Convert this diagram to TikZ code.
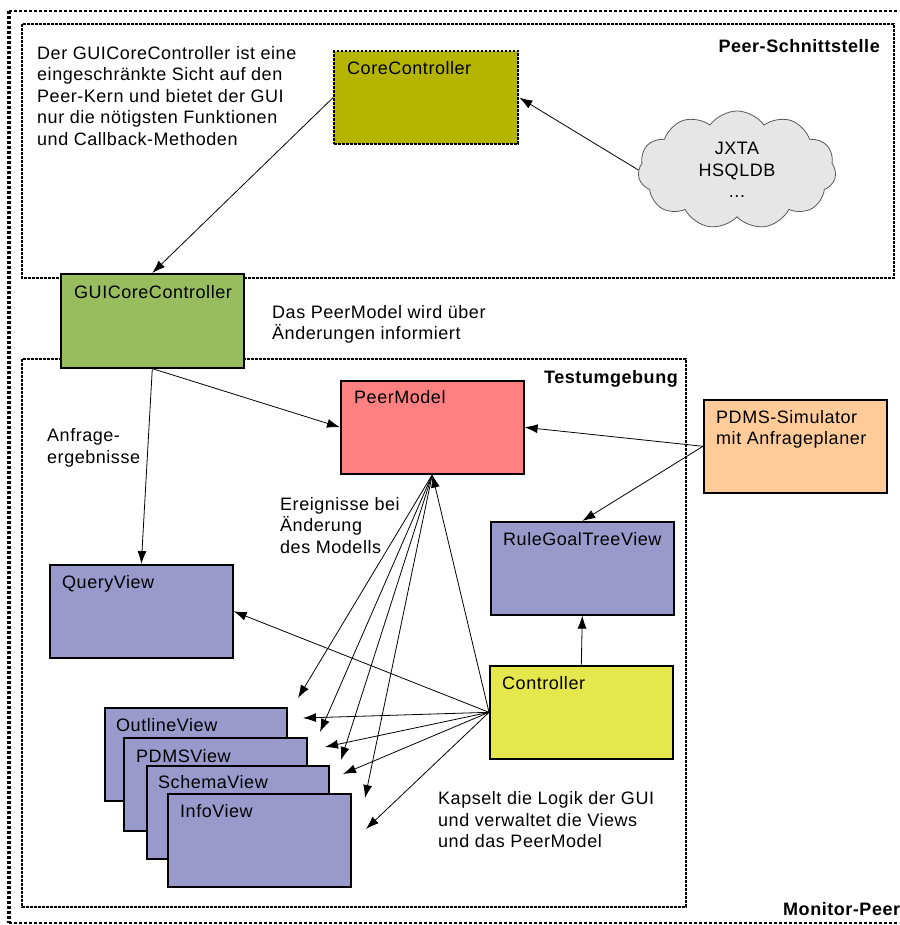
\documentclass[tikz,border=0pt]{standalone}
\usepackage{fontspec}
\setmainfont{Liberation Sans}[LetterSpace=3]
\usetikzlibrary{arrows.meta,shapes.symbols}

\definecolor{coreolive}{HTML}{B5B500}
\definecolor{guigreen}{HTML}{97BD5F}
\definecolor{modelred}{HTML}{FF8080}
\definecolor{viewblue}{HTML}{9999CC}
\definecolor{simorange}{HTML}{FFCC99}
\definecolor{ctlyellow}{HTML}{E6E64D}
\definecolor{cloudgray}{HTML}{E6E6E6}

\newcommand\fs{\fontsize{18}{21.5}\selectfont}
\newcommand\tstrut{\rule{0pt}{16pt}}

\tikzset{
  box/.style={draw=black, line width=1.6pt, rectangle, inner sep=0pt, anchor=north west},
  lbl/.style={anchor=base west, inner sep=0pt, font=\fs},
  txt/.style={anchor=north west, inner sep=0pt, align=left, font=\fs},
  ttl/.style={inner sep=0pt, font=\fs\bfseries},
  frame/.style={draw=black, line width=2.6pt, dash pattern=on 2.7pt off 1.3pt},
  outerthin/.style={draw=black, line width=1.1pt, dash pattern=on 3pt off 2pt},
  outerthick/.style={draw=black, line width=3.2pt, dash pattern=on 3.2pt off 1.8pt},
  arr/.style={-{Latex[length=13pt,width=9pt]}, line width=0.8pt},
}

\begin{document}
\begin{tikzpicture}[x=1pt,y=-1pt]
\fill[white] (0,0) rectangle (899,925);
\useasboundingbox (0,0) rectangle (899,925);
\clip (0,0) rectangle (899,925);

% frames
\draw[outerthin] (9,11) -- (899,11);
\draw[outerthin] (9,923) -- (899,923);
\draw[outerthick] (9,11) -- (9,923);
\draw[frame] (22,24) rectangle (894,278);
\draw[frame] (22,359) rectangle (686,907);

% boxes
\node[box, fill=coreolive, dash pattern=on 2.7pt off 1.3pt, line width=2.4pt,
      minimum width=184pt, minimum height=93pt] (core) at (333,50) {};
\node[box, fill=guigreen, minimum width=183pt, minimum height=94pt] (gcc) at (60,273) {};
\node[box, fill=modelred, minimum width=183pt, minimum height=93pt] (pm) at (340,380) {};
\node[box, fill=viewblue, minimum width=183pt, minimum height=93pt] (qv) at (49,564) {};
\node[box, fill=simorange, minimum width=183pt, minimum height=93pt] (sim) at (703,399) {};
\node[box, fill=viewblue, minimum width=183pt, minimum height=93pt] (rgt) at (490,521) {};
\node[box, fill=ctlyellow, minimum width=183pt, minimum height=93pt] (ctl) at (489,665) {};
\node[box, fill=viewblue, minimum width=182pt, minimum height=93pt] (ov) at (104,707) {};
\node[box, fill=viewblue, minimum width=183pt, minimum height=93pt] (pv) at (123,737) {};
\node[box, fill=viewblue, minimum width=182pt, minimum height=93pt] (sv) at (146,765) {};
\node[box, fill=viewblue, minimum width=183pt, minimum height=93pt] (iv) at (167,793) {};

\node[cloud, cloud puffs=11, cloud puff arc=110, cloud ignores aspect,
      draw=black!65, fill=cloudgray, line width=0.8pt,
      minimum width=198pt, minimum height=118pt,
      align=center, font=\fs, inner sep=0pt] (cloud) at (737,170) {JXTA\\HSQLDB\\...};

% box labels
\node[lbl] (lcore) at ([shift={(14,25)}]core.north west) {CoreController};
\node[lbl] (lgcc) at ([shift={(14,25)}]gcc.north west) {GUICoreController};
\node[lbl] (lpm) at ([shift={(14,23)}]pm.north west) {PeerModel};
\node[lbl] (lqv) at ([shift={(13,24)}]qv.north west) {QueryView};
\node[lbl] (lrgt) at ([shift={(13,24)}]rgt.north west) {RuleGoalTreeView};
\node[lbl] (lctl) at ([shift={(13,24)}]ctl.north west) {Controller};
\node[lbl] (lov) at ([shift={(12,24)}]ov.north west) {OutlineView};
\node[lbl] (lpv) at ([shift={(13,25)}]pv.north west) {PDMSView};
\node[lbl] (lsv) at ([shift={(12,23)}]sv.north west) {SchemaView};
\node[lbl] (liv) at ([shift={(13,24)}]iv.north west) {InfoView};
\node[txt] (lsim) at (716,407) {\tstrut PDMS-Simulator\\mit Anfrageplaner};

% free text
\node[txt] (note1) at (37,43) {\tstrut Der GUICoreController ist eine\\eingeschränkte Sicht auf den\\Peer-Kern und bietet der GUI\\nur die nötigsten Funktionen\\und Callback-Methoden};
\node[txt] (note2) at (272,302) {\tstrut Das PeerModel wird über\\Änderungen informiert};
\node[txt] (note3) at (47,425.5) {\tstrut Anfrage-\\ergebnisse};
\node[txt] (note4) at (280,494) {\tstrut Ereignisse bei\\Änderung\\des Modells};
\node[txt] (note5) at (438,788.5) {\tstrut Kapselt die Logik der GUI\\und verwaltet die Views\\und das PeerModel};

% free arrow ends near the view stack
\coordinate (p1) at (298,698);
\coordinate (p2) at (320,732);
\coordinate (p3) at (341,760);
\coordinate (p4) at (365,798);
\coordinate (c1) at (303,718);
\coordinate (c2) at (325,747);
\coordinate (c3) at (343,774);
\coordinate (c4) at (366,829);

% connectors
\draw[arr] (cloud.west) -- (core.east);
\draw[arr] (core.west) -- (gcc.north);
\draw[arr] (gcc.south) -- (pm.west);
\draw[arr] (gcc.south) -- (qv.north);
\draw[arr] (sim.west) -- (pm.east);
\draw[arr] (sim.west) -- (rgt.north);
\draw[arr] (ctl.north) -- (rgt.south);
\draw[arr] (ctl.west) -- (pm.south);
\draw[arr] (ctl.west) -- (qv.east);
\foreach \t in {c1,c2,c3,c4} \draw[arr] (ctl.west) -- (\t);
\foreach \t in {p1,p2,p3,p4} \draw[arr] (pm.south) -- (\t);

% frame titles
\node[ttl, anchor=base east] (tpeer) at (880,53) {Peer-Schnittstelle};
\node[ttl, anchor=base east] (ttest) at (678,383) {Testumgebung};
\node[ttl, anchor=base west] (tmon) at (783,915) {Monitor-Peer};
\end{tikzpicture}
\end{document}
